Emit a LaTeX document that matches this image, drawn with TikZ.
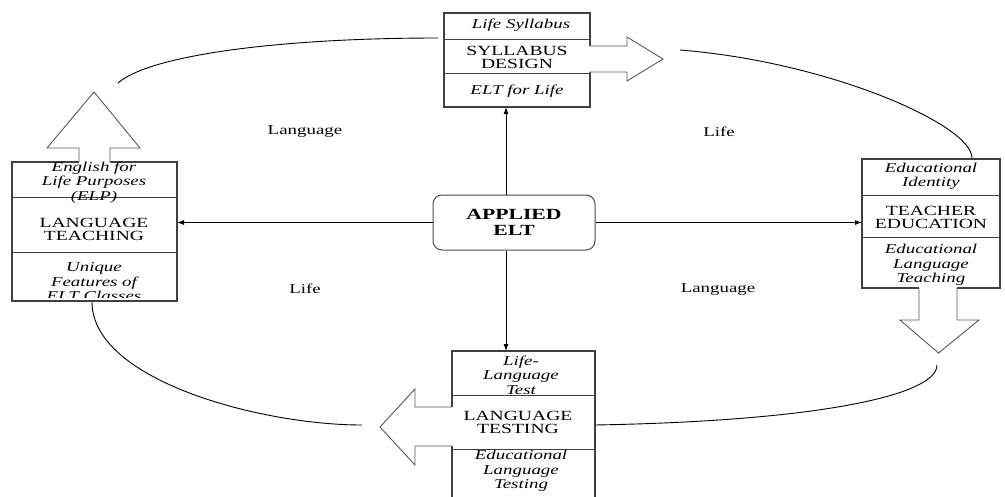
\documentclass[tikz,border=0pt]{standalone}
\usepackage{fontspec}
\setmainfont{Liberation Serif}[FakeStretch=1.4]
\usetikzlibrary{arrows.meta,calc}
\begin{document}
\begin{tikzpicture}[x=1pt,y=-1pt,
  box/.style={draw=black!75, line width=1.2pt, fill=white, inner sep=0pt, outer sep=0pt},
  divider/.style={draw=black!75, line width=1pt},
  bigfill/.style={fill=white},
  bigline/.style={draw=black!65, line width=0.9pt, line join=miter},
  itx/.style={font=\fontsize{13.5}{14.5}\selectfont\itshape, align=center, inner sep=0pt},
  capx/.style={font=\fontsize{14}{13}\selectfont, align=center, inner sep=0pt},
  lbl/.style={font=\fontsize{13.5}{14}\selectfont, inner sep=0pt},
  conn/.style={-{Latex[length=7pt,width=5pt]}, line width=0.9pt},
  arcline/.style={line width=0.9pt}]
\clip (0,0) rectangle (1005,496);
\fill[white] (0,0) rectangle (1005,496);

% ---------- boxes ----------
\node[box, minimum width=146pt, minimum height=94pt] (T) at (517,60) {};
\node[box, minimum width=165pt, minimum height=139pt] (L) at (94.5,231.5) {};
\node[box, minimum width=138pt, minimum height=129pt] (R) at (931,223.5) {};
\node[box, minimum width=143pt, minimum height=160pt] (B) at (523.5,431) {};

% dividers
\draw[divider] (T.west |- 0,39) -- (T.east |- 0,39);
\draw[divider] (T.west |- 0,73) -- (T.east |- 0,73);
\draw[divider] (L.west |- 0,197) -- (L.east |- 0,197);
\draw[divider] (L.west |- 0,252) -- (L.east |- 0,252);
\draw[divider] (R.west |- 0,195) -- (R.east |- 0,195);
\draw[divider] (R.west |- 0,237) -- (R.east |- 0,237);
\draw[divider] (B.west |- 0,395) -- (B.east |- 0,395);
\draw[divider] (B.west |- 0,449) -- (B.east |- 0,449);

% ---------- big hollow arrows ----------
% top box, pointing right
\fill[bigfill] (589.2,46) -- (627,46) -- (627,37) -- (663,59) -- (627,81) -- (627,72) -- (589.2,72) -- cycle;
\draw[bigline] (590,46) -- (627,46) -- (627,37) -- (663,59) -- (627,81) -- (627,72) -- (590,72);
% left box, pointing up
\fill[bigfill] (79,162.8) -- (79,148) -- (47,148) -- (94,92) -- (140,148) -- (110,148) -- (110,162.8) -- cycle;
\draw[bigline] (79,162) -- (79,148) -- (47,148) -- (94,92) -- (140,148) -- (110,148) -- (110,162);
% right box, pointing down
\fill[bigfill] (919,287.2) -- (919,320) -- (900,320) -- (938.5,353) -- (979,320) -- (957,320) -- (957,287.2) -- cycle;
\draw[bigline] (919,288) -- (919,320) -- (900,320) -- (938.5,353) -- (979,320) -- (957,320) -- (957,288);
% bottom box, pointing left
\fill[bigfill] (452.8,407) -- (415,407) -- (415,389) -- (380,427) -- (415,465) -- (415,446) -- (452.8,446) -- cycle;
\draw[bigline] (452,407) -- (415,407) -- (415,389) -- (380,427) -- (415,465) -- (415,446) -- (452,446);

% ---------- texts in boxes ----------
\node[itx] (t1) at (521,25) {Life Syllabus};
\node[capx] (t2) at (517,57) {SYLLABUS\\DESIGN};
\node[itx] (t3) at (517,91) {ELT for Life};

\node[itx] (l1) at (94,182.5) {English for\\Life Purposes\\(ELP)};
\node[capx] (l2) at (94,229.5) {LANGUAGE\\TEACHING};
\begin{scope}
  \clip (13,253) rectangle (176,297);
  \node[itx] (l3) at (94,282) {Unique\\Features of\\ELT Classes};
\end{scope}

\node[itx] (r1) at (931,176.5) {Educational\\Identity};
\node[capx] (r2) at (931,217) {TEACHER\\EDUCATION};
\node[itx] (r3) at (931,265) {Educational\\Language\\Teaching};

\node[itx] (b1) at (521,375) {Life-\\Language\\Test};
\node[capx] (b2) at (518,422.5) {LANGUAGE\\TESTING};
\node[itx] (b3) at (521,471) {Educational\\Language\\Testing};

% ---------- centre ----------
\node[draw=black!70, line width=1pt, rounded corners=9pt, minimum width=162pt,
      minimum height=55pt, inner sep=0pt,
      font=\bfseries\fontsize{15.5}{16.5}\selectfont, align=center] (C) at (514,222.5) {APPLIED\\ELT};

\coordinate (vx) at (506,0);
\draw[conn] (vx |- C.north) -- (vx |- T.south);
\draw[conn] (vx |- C.south) -- (vx |- B.north);
\draw[conn] (C.west) -- (L.east |- C.west);
\draw[conn] (C.east) -- (R.west |- C.east);

% ---------- arcs ----------
\coordinate (a1s) at (118,83);  \coordinate (a1e) at (438,38);
\coordinate (a2s) at (680,50);  \coordinate (a2e) at (972,158);
\coordinate (a3s) at (937,365); \coordinate (a3e) at (595,425);
\coordinate (a4s) at (362,425); \coordinate (a4e) at (92,302);
\draw[arcline] (a1s) .. controls (150,55) and (280,38) .. (a1e);
\draw[arcline] (a2s) .. controls (830,62) and (972,125) .. (a2e);
\draw[arcline] (a3s) .. controls (937,395) and (820,421) .. (a3e);
\draw[arcline] (a4s) .. controls (260,425) and (92,380) .. (a4e);

% ---------- labels ----------
\node[lbl] (la1) at (305,132) {Language};
\node[lbl] (la2) at (719,132) {Life};
\node[lbl] (la3) at (305,289) {Life};
\node[lbl] (la4) at (718,290) {Language};
\end{tikzpicture}
\end{document}
